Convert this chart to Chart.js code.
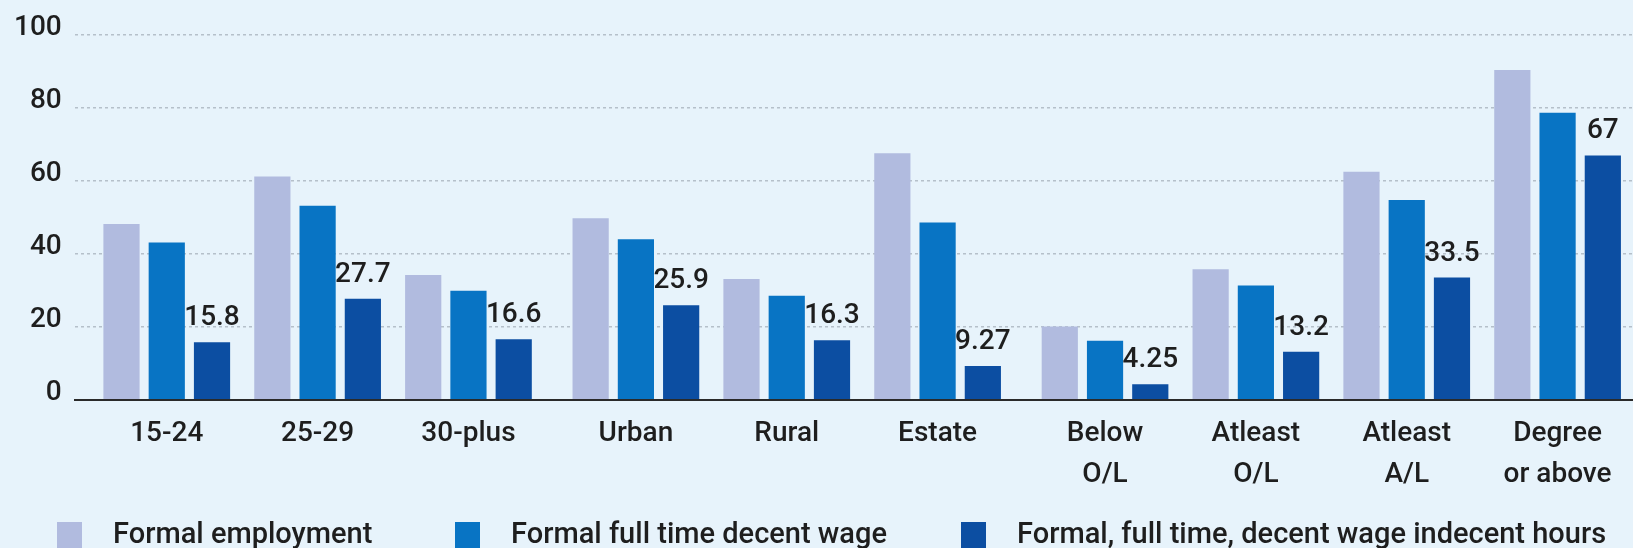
<!DOCTYPE html>
<html>
<head>
<meta charset="utf-8">
<title>Formal employment by age, sector and education</title>
<script src="https://cdn.jsdelivr.net/npm/chart.js@4.4.1/dist/chart.umd.min.js"></script>
<style>
  html, body { margin: 0; padding: 0; background: #e7f3fb; overflow: hidden; }
  #wrap { position: relative; width: 1633px; height: 548px; }
  #legend {
    position: absolute; left: 57px; top: 518px;
    display: grid; grid-template-columns: 398px 506px auto;
    font: 500 29px Roboto, 'Liberation Sans', Arial, sans-serif; line-height: 30px;
    color: #1e1e1e; white-space: nowrap;
  }
  #legend .item { display: flex; align-items: flex-start; }
  #legend .box { width: 25px; height: 26px; margin-top: 4px; margin-right: 31px; }
</style>
</head>
<body>
<div id="wrap">
  <canvas id="chart"></canvas>
  <div id="legend"></div>
</div>
<script>
const categories = ['15-24', '25-29', '30-plus', 'Urban', 'Rural', 'Estate',
  ['Below', 'O/L'], ['Atleast', 'O/L'], ['Atleast', 'A/L'], ['Degree', 'or above']];
const groupSizes = [3, 3, 4];   // age, location, education

const seriesNames = ['Formal employment', 'Formal full time decent wage',
  'Formal, full time, decent wage indecent hours'];
const formalEmployment = [48.2, 61.2, 34.2, 49.8, 33.1, 67.6, 20.1, 35.8, 62.5, 90.4];
const formalDecentWage = [43.1, 53.2, 29.9, 44.0, 28.5, 48.6, 16.2, 31.3, 54.8, 78.7];
const formalIndecentHours = [15.8, 27.7, 16.6, 25.9, 16.3, 9.27, 4.25, 13.2, 33.5, 67];

const yTickValues = [0, 20, 40, 60, 80, 100];

const FONT = "Roboto, 'Liberation Sans', Arial, sans-serif";
Chart.defaults.font.family = FONT;
Chart.defaults.font.weight = 500;
Chart.defaults.color = '#1e1e1e';

// category axis that leaves a small gap in front of every group of categories
class GroupedCategoryScale extends Chart.CategoryScale {
  static id = 'groupedCategory';

  _slot(index) {
    const { groupSizes, groupGap } = this.options;
    let g = 0;
    let end = groupSizes[0];
    while (index >= end && g < groupSizes.length - 1) {
      g++;
      end += groupSizes[g];
    }
    return index + 0.5 + groupGap * (g + 1);
  }

  _slotCount() {
    const { groupSizes, groupGap } = this.options;
    return this.getLabels().length + groupGap * groupSizes.length;
  }

  getPixelForValue(value) {
    if (typeof value !== 'number') value = this.parse(value);
    if (value === null || isNaN(value)) return NaN;
    return this.getPixelForDecimal(this._slot(value) / this._slotCount());
  }

  getValueForPixel(pixel) {
    const pos = this.getDecimalForPixel(pixel) * this._slotCount();
    let best = 0;
    for (let i = 1; i < this.getLabels().length; i++) {
      if (Math.abs(this._slot(i) - pos) < Math.abs(this._slot(best) - pos)) best = i;
    }
    return best;
  }
}
Chart.register(GroupedCategoryScale);

// numbers over the bars of one series
const valueLabels = {
  id: 'valueLabels',
  afterDatasetsDraw(chart, args, opts) {
    const { ctx } = chart;
    const meta = chart.getDatasetMeta(opts.datasetIndex);
    const values = chart.data.datasets[opts.datasetIndex].data;
    ctx.save();
    ctx.font = opts.font;
    ctx.fillStyle = opts.color;
    ctx.textAlign = 'center';
    ctx.textBaseline = 'alphabetic';
    meta.data.forEach((bar, i) => {
      ctx.fillText(String(values[i]), bar.x, bar.y - opts.offset);
    });
    ctx.restore();
  }
};

// legend built as html from the chart's own legend items
const htmlLegend = {
  id: 'htmlLegend',
  afterUpdate(chart, args, opts) {
    const box = document.getElementById(opts.containerID);
    box.innerHTML = '';
    const items = chart.options.plugins.legend.labels.generateLabels(chart);
    items.forEach(item => {
      const el = document.createElement('div');
      el.className = 'item';
      const sw = document.createElement('span');
      sw.className = 'box';
      sw.style.background = item.fillStyle;
      const txt = document.createElement('span');
      txt.textContent = item.text;
      el.appendChild(sw);
      el.appendChild(txt);
      box.appendChild(el);
    });
  }
};

new Chart(document.getElementById('chart'), {
  type: 'bar',
  data: {
    labels: categories,
    datasets: [
      { label: seriesNames[0], data: formalEmployment, backgroundColor: '#b1bbdf' },
      { label: seriesNames[1], data: formalDecentWage, backgroundColor: '#0874c4' },
      { label: seriesNames[2], data: formalIndecentHours, backgroundColor: '#0c4ea2' }
    ]
  },
  options: {
    responsive: true,
    maintainAspectRatio: false,
    animation: false,
    categoryPercentage: 0.9,
    barPercentage: 0.8,
    // chart.js reserves the tick padding twice, hence the small outer paddings
    layout: { padding: { top: 35, left: 1, right: 0, bottom: 39 } },
    scales: {
      x: {
        type: 'groupedCategory',
        groupSizes: groupSizes,
        groupGap: 0.11,
        grid: { display: false, drawTicks: false },
        border: { display: true, color: '#2a2a2a', width: 2 },
        ticks: {
          padding: 14,
          font: { size: 28, lineHeight: 1.45 },
          maxRotation: 0,
          autoSkip: false
        }
      },
      y: {
        min: 0,
        max: 100,
        afterBuildTicks: scale => {
          scale.ticks = yTickValues.map(v => ({ value: v }));
        },
        grid: {
          drawTicks: false,
          lineWidth: 1.5,
          color: c => (c.tick && c.tick.value === 0) ? 'rgba(0,0,0,0)' : '#b5c0ca'
        },
        border: { display: false, dash: [3, 3] },
        ticks: {
          padding: 13,
          labelOffset: -7,
          font: { size: 28 }
        }
      }
    },
    plugins: {
      legend: { display: false },
      tooltip: { enabled: false },
      valueLabels: { datasetIndex: 2, offset: 17, color: '#1e1e1e', font: '500 28px ' + FONT },
      htmlLegend: { containerID: 'legend' }
    }
  },
  plugins: [valueLabels, htmlLegend]
});
</script>
</body>
</html>
